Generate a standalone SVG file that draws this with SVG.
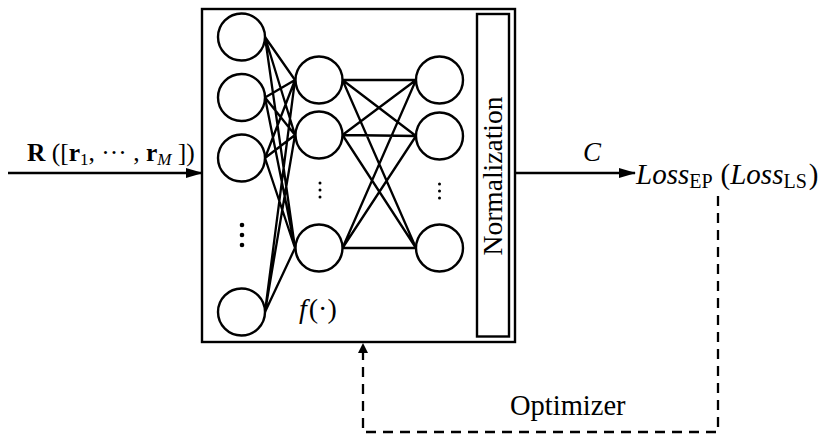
<svg xmlns="http://www.w3.org/2000/svg" width="832" height="436" viewBox="0 0 832 436">
<style>
.n{fill:#fff;stroke:#000;stroke-width:2.4}
.e{stroke:#000;stroke-width:2.3;fill:none}
.t{font-family:"Liberation Serif","DejaVu Serif",serif;fill:#000}
.d{fill:#000}
</style>
<defs>
<marker id="ah" markerWidth="17" markerHeight="10" refX="16" refY="5" orient="auto" markerUnits="userSpaceOnUse">
<path d="M0,0 L17,5 L0,10 Z" fill="#000"/>
</marker>
<marker id="ah2" markerWidth="10" markerHeight="14" refX="9" refY="5" orient="auto" markerUnits="userSpaceOnUse">
<path d="M0,0 L10,5 L0,10 Z" fill="#000"/>
</marker>
</defs>
<rect width="832" height="436" fill="#fff"/>
<g id="box"><rect x="202" y="9" width="313" height="333" class="n"/></g>
<g id="connectors">
<path class="e" d="M265,37 L295,80 M265,37 L295,135 M265,37 L295,248
M265,97.5 L295,80 M265,97.5 L295,135 M265,97.5 L295,248
M265,158 L295,80 M265,158 L295,135 M265,158 L295,248
M265,312 L295,80 M265,312 L295,135 M265,312 L295,248
M342.5,80 L416,80 M342.5,80 L416,136 M342.5,80 L416,248
M342.5,135 L416,80 M342.5,135 L416,136 M342.5,135 L416,248
M342.5,248 L416,80 M342.5,248 L416,136 M342.5,248 L416,248"/>
<line class="e" x1="8" y1="173" x2="202" y2="173" marker-end="url(#ah)"/>
<line class="e" x1="515" y1="173" x2="635" y2="173" marker-end="url(#ah)"/>
<path class="e" d="M718,196 L718,432 L363,432 L363,344" stroke-dasharray="10,7" marker-end="url(#ah2)"/>
</g>
<g id="input-layer">
<circle class="n" cx="241.5" cy="37" r="23.5"/>
<circle class="n" cx="241.5" cy="97.5" r="23.5"/>
<circle class="n" cx="241.5" cy="158" r="23.5"/>
<circle class="n" cx="241.5" cy="312" r="23.5"/>
<circle class="d" cx="242" cy="225" r="2.3"/>
<circle class="d" cx="242" cy="235" r="2.3"/>
<circle class="d" cx="242" cy="245" r="2.3"/>
</g>
<g id="hidden-layer-1">
<circle class="n" cx="319" cy="80" r="23.5"/>
<circle class="n" cx="319" cy="135" r="23.5"/>
<circle class="n" cx="319" cy="248" r="23.5"/>
<circle class="d" cx="320" cy="183" r="1.5"/>
<circle class="d" cx="320" cy="190" r="1.5"/>
<circle class="d" cx="320" cy="197" r="1.5"/>
</g>
<g id="hidden-layer-2">
<circle class="n" cx="439.5" cy="80" r="23.5"/>
<circle class="n" cx="439.5" cy="136" r="23.5"/>
<circle class="n" cx="439.5" cy="248" r="23.5"/>
<circle class="d" cx="439.5" cy="184" r="1.5"/>
<circle class="d" cx="439.5" cy="191" r="1.5"/>
<circle class="d" cx="439.5" cy="198" r="1.5"/>
</g>
<g id="normalization">
<rect x="477" y="14" width="32" height="322.5" class="n"/>
<text class="t" font-size="27.5" text-anchor="middle" transform="translate(502,176) rotate(-90)">Normalization</text>
</g>
<g id="f-label"><text class="t" x="299" y="318" font-size="28"><tspan font-style="italic">f</tspan><tspan dx="2">(·)</tspan></text></g>
<g id="input-label"><text class="t" x="27" y="161" font-size="25.5"><tspan font-weight="bold">R</tspan> ([<tspan font-weight="bold">r</tspan><tspan font-size="17" dy="4">1</tspan><tspan dy="-4">, ··· , </tspan><tspan font-weight="bold">r</tspan><tspan font-size="17" font-style="italic" dy="4">M</tspan><tspan dy="-4"> ])</tspan></text></g>
<g id="c-label"><text class="t" x="583" y="161" font-size="27" font-style="italic">C</text></g>
<g id="loss"><text class="t" x="636" y="184" font-size="29"><tspan font-style="italic">Loss</tspan><tspan font-size="20" dy="4">EP</tspan><tspan dy="-4" dx="8">(</tspan><tspan font-style="italic">Loss</tspan><tspan font-size="20" dy="4">LS</tspan><tspan dy="-4" dx="2">)</tspan></text></g>
<g id="optimizer"><text class="t" x="510" y="415" font-size="28.5">Optimizer</text></g>
</svg>
